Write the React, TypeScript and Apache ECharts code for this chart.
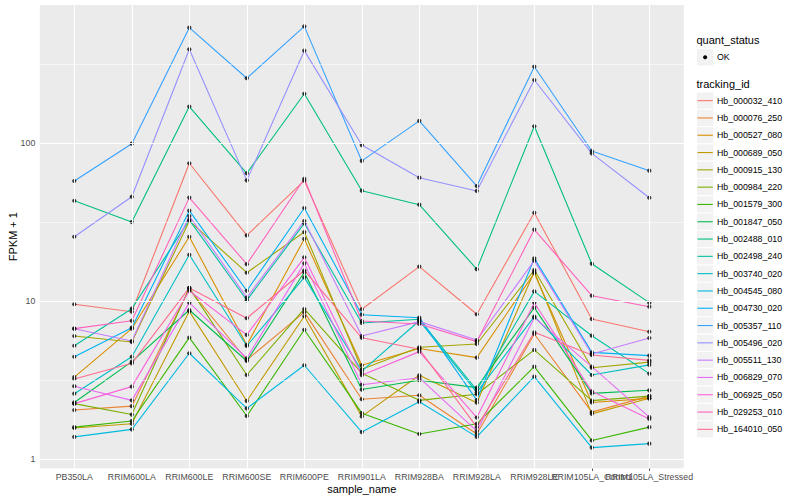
import React, { useEffect, useRef } from "react";
import * as echarts from "echarts";

const categories = [
  "PB350LA", "RRIM600LA", "RRIM600LE", "RRIM600SE", "RRIM600PE", "RRIM901LA",
  "RRIM928BA", "RRIM928LA", "RRIM928LE", "RRIM105LA_Control", "RRIM105LA_Stressed",
];

const trackingIds = [
  "Hb_000032_410", "Hb_000076_250", "Hb_000527_080", "Hb_000689_050", "Hb_000915_130",
  "Hb_000984_220", "Hb_001579_300", "Hb_001847_050", "Hb_002488_010", "Hb_002498_240",
  "Hb_003740_020", "Hb_004545_080", "Hb_004730_020", "Hb_005357_110", "Hb_005496_020",
  "Hb_005511_130", "Hb_006829_070", "Hb_006925_050", "Hb_029253_010", "Hb_164010_050",
];

const trackingColors = [
  "#F8766D", "#EA8331", "#D89000", "#C09B00", "#A3A500",
  "#7CAE00", "#39B600", "#00BB4E", "#00BF7D", "#00C1A3",
  "#00BFC4", "#00BAE0", "#00B0F6", "#35A2FF", "#9590FF",
  "#C77CFF", "#E76BF3", "#FA62DB", "#FF62BC", "#FF6C91",
];

// FPKM + 1 per sample, in category order
const hb000032_410 = [9.53, 8.55, 74.4, 26.0, 57.7, 8.86, 16.5, 8.24, 36.2, 7.69, 6.39];
const hb000076_250 = [2.04, 2.16, 11.9, 4.23, 8.5, 2.39, 2.53, 1.44, 6.18, 1.98, 2.5];
const hb000527_080 = [3.3, 6.68, 25.5, 5.27, 24.7, 3.92, 5.0, 4.38, 15.0, 2.28, 2.42];
const hb000689_050 = [1.57, 1.67, 8.6, 2.33, 8.0, 1.86, 3.39, 2.27, 15.3, 1.93, 2.42];
const hb000915_130 = [6.0, 5.5, 32.1, 15.1, 27.3, 3.7, 5.09, 5.34, 15.7, 3.78, 4.1];
const hb000984_220 = [2.24, 1.91, 12.1, 3.4, 8.9, 3.49, 2.35, 2.57, 4.9, 2.34, 2.5];
const hb001579_300 = [1.59, 1.74, 5.86, 1.87, 6.58, 1.95, 1.44, 1.67, 3.84, 1.31, 1.59];
const hb001847_050 = [2.28, 4.13, 8.77, 4.17, 15.2, 2.75, 3.15, 2.83, 9.07, 2.6, 2.72];
const hb002488_010 = [43.1, 31.6, 170, 64.3, 205, 49.9, 40.7, 15.9, 127.6, 17.2, 9.76];
const hb002498_240 = [5.21, 8.94, 32.6, 10.1, 31.0, 7.26, 7.66, 2.73, 11.5, 6.03, 3.47];
const hb003740_020 = [2.59, 4.44, 19.6, 5.19, 14.1, 3.6, 7.5, 2.64, 7.96, 3.4, 3.94];
const hb004545_080 = [1.38, 1.54, 4.67, 2.09, 3.92, 1.48, 2.3, 1.38, 3.32, 1.18, 1.25];
const hb004730_020 = [4.44, 6.78, 37.3, 11.6, 38.8, 8.19, 7.84, 2.36, 18.6, 4.73, 4.51];
const hb005357_110 = [57.5, 99, 537, 257, 547, 77, 138, 53.4, 304, 89, 66.8];
const hb005496_020 = [25.5, 45.7, 392, 58, 384, 97, 60.3, 49.7, 250.5, 86, 45];
const hb005511_130 = [6.68, 5.58, 34.5, 10.5, 32.1, 6.0, 7.4, 5.66, 18.0, 4.62, 5.83];
const hb006829_070 = [2.89, 2.35, 9.76, 4.34, 17.3, 2.95, 3.27, 1.5, 7.84, 3.84, 1.84];
const hb006925_050 = [2.24, 2.87, 11.6, 6.1, 18.9, 3.39, 4.78, 1.83, 9.75, 2.68, 1.79];
const hb029253_010 = [6.68, 7.5, 45.1, 17.1, 59.4, 7.47, 7.15, 5.53, 28.3, 10.8, 9.2];
const hb164010_050 = [3.21, 4.03, 12.1, 7.78, 15.6, 5.85, 4.95, 1.59, 6.34, 4.55, 4.21];

const seriesValues = [
  hb000032_410, hb000076_250, hb000527_080, hb000689_050, hb000915_130,
  hb000984_220, hb001579_300, hb001847_050, hb002488_010, hb002498_240,
  hb003740_020, hb004545_080, hb004730_020, hb005357_110, hb005496_020,
  hb005511_130, hb006829_070, hb006925_050, hb029253_010, hb164010_050,
];

const yTickValues = [1, 10, 100];
const yMinorValues = [Math.sqrt(10), Math.sqrt(1000), Math.sqrt(100000)];
const yMin = 0.873;
const yMax = 747;

const FONT = "Liberation Sans, Arial, Helvetica, sans-serif";

export default function App() {
  const ref = useRef<HTMLDivElement>(null);

  useEffect(() => {
    document.body.style.margin = "0";
    if (!ref.current) return;
    const chart = echarts.init(ref.current, null, { renderer: "svg" });
    const lg = Math.log10;
    const catIdx = categories.map((_, i) => i);
    // labels split over separate axes so that overlapping labels are all kept
    const labelGroups = [catIdx.slice(0, 9), [9], [10]];

    const gridSeries: any = {
      type: "line",
      name: "__grid",
      data: [[0, 0]],
      showSymbol: false,
      symbol: "none",
      lineStyle: { width: 0, opacity: 0 },
      z: 1,
      silent: true,
      markLine: {
        silent: true,
        animation: false,
        symbol: ["none", "none"],
        label: { show: false },
        emphasis: { disabled: true },
        data: [
          ...yMinorValues.map((v) => ({ yAxis: lg(v), lineStyle: { color: "#FFFFFF", width: 0.55, type: "solid" } })),
          ...yTickValues.map((v) => ({ yAxis: lg(v), lineStyle: { color: "#FFFFFF", width: 1.1, type: "solid" } })),
          ...catIdx.map((i) => ({ xAxis: i, lineStyle: { color: "#FFFFFF", width: 1.1, type: "solid" } })),
        ],
      },
    };

    const lineSeries = seriesValues.map((vals, k) => ({
      type: "line",
      name: trackingIds[k],
      data: vals.map((v, i) => [i, lg(v)]),
      showSymbol: false,
      symbol: "none",
      lineStyle: { color: trackingColors[k], width: 1.1 },
      itemStyle: { color: trackingColors[k] },
      z: 2,
      silent: true,
    }));

    const points: number[][] = [];
    seriesValues.forEach((vals) => vals.forEach((v, i) => points.push([i, lg(v)])));
    const pointSeries = {
      type: "scatter",
      name: "OK",
      data: points,
      symbol: "circle",
      symbolSize: 4.2,
      itemStyle: { color: "#000000" },
      z: 3,
      silent: true,
    };

    const legendX = 696.5;
    const keySize = 17.3;
    const trackTop = 92;
    const legendChildren: any[] = [
      { type: "text", x: legendX, y: 40, style: { text: "quant_status", font: `11px ${FONT}`, fill: "#000", verticalAlign: "middle" } },
      { type: "rect", x: legendX, y: 48.7, shape: { x: 0, y: 0, width: keySize, height: keySize }, style: { fill: "#F2F2F2", stroke: "#FFFFFF", lineWidth: 1 } },
      { type: "circle", x: legendX + keySize / 2, y: 48.7 + keySize / 2, shape: { cx: 0, cy: 0, r: 2 }, style: { fill: "#000" } },
      { type: "text", x: legendX + keySize + 3.2, y: 57.4, style: { text: "OK", font: `8.8px ${FONT}`, fill: "#000", verticalAlign: "middle" } },
      { type: "text", x: legendX, y: 84, style: { text: "tracking_id", font: `11px ${FONT}`, fill: "#000", verticalAlign: "middle" } },
    ];
    trackingIds.forEach((id, k) => {
      const y0 = trackTop + k * keySize;
      legendChildren.push(
        { type: "rect", x: legendX, y: y0, shape: { x: 0, y: 0, width: keySize, height: keySize }, style: { fill: "#F2F2F2", stroke: "#FFFFFF", lineWidth: 1 } },
        { type: "line", shape: { x1: legendX + 1, y1: y0 + keySize / 2, x2: legendX + keySize - 1, y2: y0 + keySize / 2 }, style: { stroke: trackingColors[k], lineWidth: 1.1 } },
        { type: "text", x: legendX + keySize + 3.2, y: y0 + keySize / 2, style: { text: id, font: `8.8px ${FONT}`, fill: "#000", verticalAlign: "middle" } }
      );
    });

    const xLabelBase = {
      show: true,
      margin: 4.5,
      color: "#4D4D4D",
      fontSize: 8.8,
      fontFamily: FONT,
      hideOverlap: false,
      formatter: (v: number) => categories[Math.round(v)] ?? "",
    };
    const xTickBase = { show: true, length: 2.75, lineStyle: { color: "#333333", width: 0.8 } };

    const xAxes = labelGroups.map((group, gi) => ({
      type: "value",
      position: "bottom",
      offset: 0,
      min: -0.6,
      max: 10.6,
      ...(gi === 0
        ? {
            name: "sample_name",
            nameLocation: "middle",
            nameGap: 15.5,
            nameMoveOverlap: false,
            nameTextStyle: { color: "#000", fontSize: 11, fontFamily: FONT },
          }
        : {}),
      axisLine: { show: false },
      splitLine: { show: false },
      axisTick: { ...xTickBase, customValues: group },
      axisLabel: { ...xLabelBase, customValues: group },
    }));

    const option: any = {
      animation: false,
      backgroundColor: "#FFFFFF",
      textStyle: { fontFamily: FONT },
      grid: {
        left: 39.8,
        right: 116.2,
        top: 5,
        bottom: 31.7,
        show: true,
        backgroundColor: "#EBEBEB",
        borderWidth: 0,
        containLabel: false,
        outerBoundsMode: "none",
      },
      xAxis: xAxes,
      yAxis: {
        type: "value",
        min: lg(yMin),
        max: lg(yMax),
        name: "FPKM + 1",
        nameLocation: "middle",
        nameGap: 21.5,
        nameMoveOverlap: false,
        nameRotate: 90,
        nameTextStyle: { color: "#000", fontSize: 11, fontFamily: FONT },
        axisLine: { show: false },
        splitLine: { show: false },
        axisTick: { show: true, length: 2.75, lineStyle: { color: "#333333", width: 0.8 }, customValues: yTickValues.map(lg) },
        axisLabel: {
          show: true,
          customValues: yTickValues.map(lg),
          margin: 4.5,
          color: "#4D4D4D",
          fontSize: 8.8,
          fontFamily: FONT,
          formatter: (v: number) => String(Math.round(Math.pow(10, v))),
        },
      },
      graphic: [{ type: "group", children: legendChildren, silent: true }],
      series: [gridSeries, ...lineSeries, pointSeries],
    };

    chart.setOption(option);
    return () => chart.dispose();
  }, []);

  return <div ref={ref} style={{ width: 800, height: 500 }} />;
}
